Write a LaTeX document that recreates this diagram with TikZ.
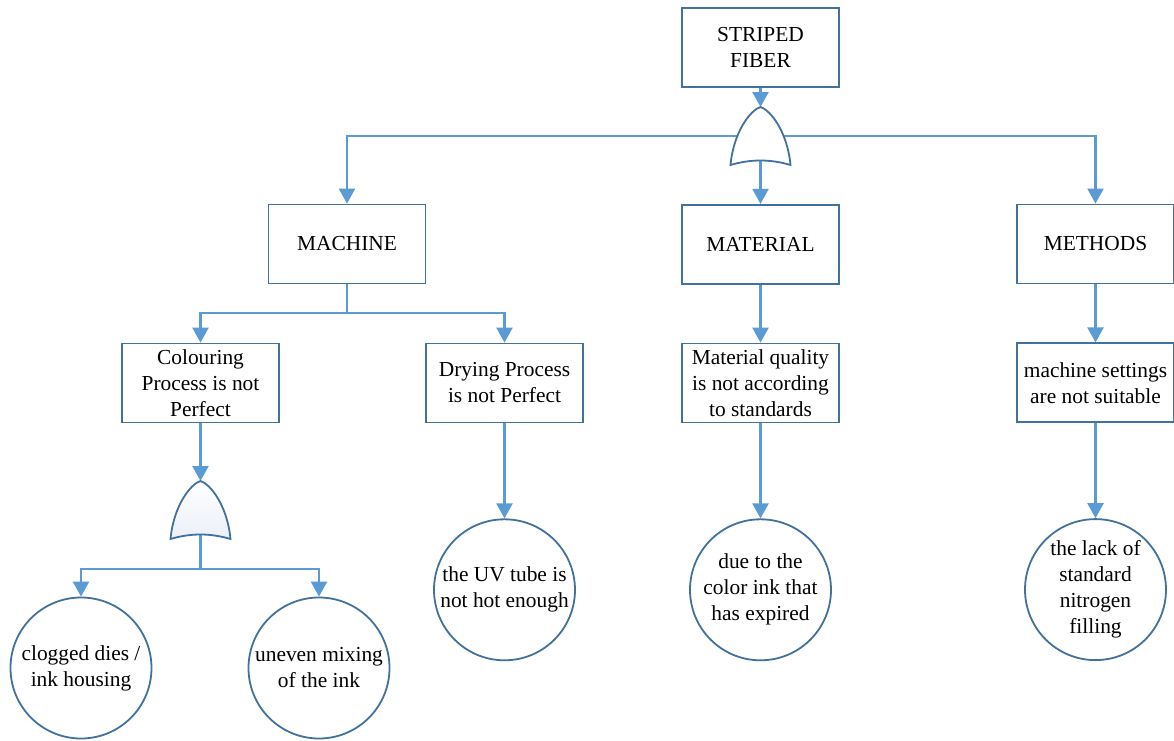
\documentclass[tikz,border=0pt]{standalone}
\usepackage{fontspec}
\setmainfont{Liberation Serif}
\usetikzlibrary{positioning}
\usetikzlibrary{arrows.meta}
\usetikzlibrary{backgrounds}

\definecolor{boxline}{HTML}{41719C}
\definecolor{linkline}{HTML}{5B9BD5}
\definecolor{gatefill}{HTML}{ECEFF8}

\tikzset{
  box/.style={draw=boxline, line width=0.9pt, fill=white, minimum width=78.5pt,
    minimum height=39.5pt, align=center, inner sep=2pt,
    font=\fontsize{10.7}{13}\selectfont},
  event/.style={draw=boxline, line width=0.9pt, fill=white, circle, minimum size=70.5pt,
    inner sep=0pt, align=center, font=\fontsize{10.7}{13}\selectfont},
  conn/.style={draw=linkline, line width=1.1pt, -{Triangle[length=7.5pt,width=8pt]}},
  orgate/.pic={
    \coordinate (-in) at (0,0);
    \coordinate (-mid) at (0,29);
    \coordinate (-out) at (0,53.5);
    \draw[draw=boxline, line width=0.9pt, pic actions] (0,0)
      .. controls (10,3) and (27,25) .. (30,58)
      .. controls (10,52) and (-10,52) .. (-30,58)
      .. controls (-27,25) and (-10,3) .. (0,0) -- cycle;
  }
}

\begin{document}
\begin{tikzpicture}[x=0.5pt,y=-0.5pt]
\useasboundingbox (0,0) rectangle (1174,740);

\node[box](fiber) at (760.5,47.5){STRIPED\\FIBER};
\node[box](machine) at (347,244){MACHINE};
\node[box, below=58pt of fiber](material){MATERIAL};
\node[box](methods) at (1095.5,244){METHODS};

\node[box](colour) at (200.5,383){Colouring\\Process is not\\Perfect};
\node[box](drying) at (504.5,383){Drying Process\\is not Perfect};
\node[box](quality) at (760.5,383){Material quality\\is not according\\to standards};
\node[box, below=29pt of methods](settings){machine settings\\are not suitable};

\node[event, below=47.5pt of drying](uvtube){the UV tube is\\not hot enough};
\node[event, below=47.5pt of quality](expired){due to the\\color ink that\\has expired};
\node[event, below=47.5pt of settings](nitrogen){the lack of\\standard\\nitrogen\\filling};
\node[event](clogged) at (81,668){clogged dies /\\ink housing};
\node[event](uneven) at (319,668){uneven mixing\\of the ink};

\pic[fill=white] (gtop) at (760.5,107) {orgate};
\pic[top color=white, bottom color=gatefill] (gcol) at (200.5,481) {orgate};

\coordinate (mjoin) at (347,313);
\coordinate (cjoin) at (200.5,569);

\begin{scope}[on background layer]
\path (fiber) edge[conn] (gtop-in);
\path (gtop-out) edge[conn] (material);
\draw[conn] (gtop-mid) -| (machine.north);
\draw[conn] (gtop-mid) -| (methods.north);
\draw[conn] (machine.south) -- (mjoin) -| (colour.north);
\draw[conn] (machine.south) -- (mjoin) -| (drying.north);
\path (material) edge[conn] (quality);
\path (methods) edge[conn] (settings);
\path (colour) edge[conn] (gcol-in);
\draw[conn] (gcol-out) -- (cjoin) -| (clogged.north);
\draw[conn] (gcol-out) -- (cjoin) -| (uneven.north);
\path (drying) edge[conn] (uvtube);
\path (quality) edge[conn] (expired);
\path (settings) edge[conn] (nitrogen);
\end{scope}
\end{tikzpicture}
\end{document}
